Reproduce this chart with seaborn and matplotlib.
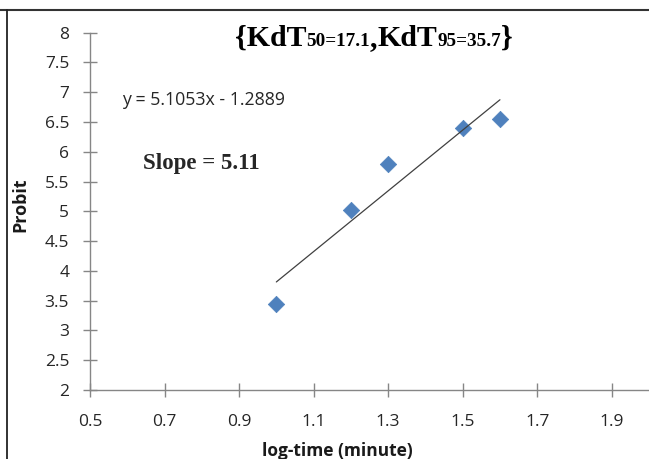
import matplotlib
matplotlib.use('Agg')
import matplotlib.pyplot as plt
import seaborn as sns
import pandas as pd
from matplotlib.offsetbox import TextArea, HPacker, AnnotationBbox
from matplotlib.lines import Line2D

# data
log_time = [1.0, 1.2, 1.3, 1.5, 1.6]
probit = [3.45, 5.03, 5.8, 6.4, 6.55]
x_ticks = [0.5, 0.7, 0.9, 1.1, 1.3, 1.5, 1.7, 1.9]
y_ticks = [2, 2.5, 3, 3.5, 4, 4.5, 5, 5.5, 6, 6.5, 7, 7.5, 8]
equation = 'y = 5.1053x - 1.2889'
slope_text = 'Slope = 5.11'
title_parts = [('{KdT', 'big'), ('50=17.1', 'small'), (',', 'big'),
               ('KdT', 'big'), ('95=35.7', 'small'), ('}', 'big')]

df = pd.DataFrame({'log_time': log_time, 'probit': probit})

sns.set_style('white')
plt.rcParams['font.family'] = ['Open Sans', 'DejaVu Sans']

fig = plt.figure(figsize=(6.49, 4.59), dpi=100)
ax = fig.add_axes([0.1387, 0.1503, 0.8613, 0.7785])

sns.scatterplot(data=df, x='log_time', y='probit', marker='D', s=70,
                color='#4F81BD', edgecolor='#4F81BD', linewidth=0.5, ax=ax, zorder=2)
sns.regplot(data=df, x='log_time', y='probit', scatter=False, ci=None,
            line_kws={'color': '#404040', 'lw': 0.9}, ax=ax)

ax.set_xlim(0.5, 2.0)
ax.set_ylim(2, 8)
ax.set_xticks(x_ticks)
ax.set_yticks(y_ticks)
ax.set_xticklabels([f'{v:g}' for v in x_ticks])
ax.set_yticklabels([f'{v:g}' for v in y_ticks])

for side in ['top', 'right']:
    ax.spines[side].set_visible(False)
for side in ['left', 'bottom']:
    ax.spines[side].set_color('#868686')
    ax.spines[side].set_linewidth(1.0)
ax.tick_params(axis='both', bottom=True, left=True, direction='inout', length=10,
               width=1.0, color='#868686', labelsize=12.5, labelcolor='#262626')
ax.tick_params(axis='x', pad=12)
ax.tick_params(axis='y', pad=10)

ax.set_xlabel('log-time (minute)', fontsize=12.5, fontweight='bold', color='#1a1a1a')
ax.set_ylabel('Probit', fontsize=13, fontweight='bold', color='#1a1a1a')
ax.xaxis.set_label_coords(0.442, -0.146)
ax.yaxis.set_label_coords(-0.108, 0.518)

ax.text(0.057, 0.812, equation, transform=ax.transAxes, fontsize=12.8,
        color='#262626', va='center', ha='left')
ax.text(0.095, 0.635, slope_text, transform=ax.transAxes, fontsize=16.5,
        family='Liberation Serif', fontweight='bold', va='center', ha='left')

# title made of big and small pieces on one baseline
sizes = {'big': 21.5, 'small': 13.8}
boxes = [TextArea(t, textprops=dict(fontsize=sizes[k], family='Liberation Serif',
                                     fontweight='bold', color='black'))
         for t, k in title_parts]
pack = HPacker(children=boxes, align='baseline', pad=0, sep=0)
ab = AnnotationBbox(pack, (0.576, 0.917), xycoords='figure fraction',
                    frameon=False, box_alignment=(0.5, 0.5))
fig.add_artist(ab)

# frame lines of the cropped screenshot
fig.add_artist(Line2D([0, 1], [1 - 9.5 / 459] * 2, transform=fig.transFigure,
                      color='#333333', lw=1.5))
fig.add_artist(Line2D([7 / 649] * 2, [0, 1 - 9.5 / 459], transform=fig.transFigure,
                      color='#222222', lw=1.3))

fig.savefig('out.png', dpi=100)
